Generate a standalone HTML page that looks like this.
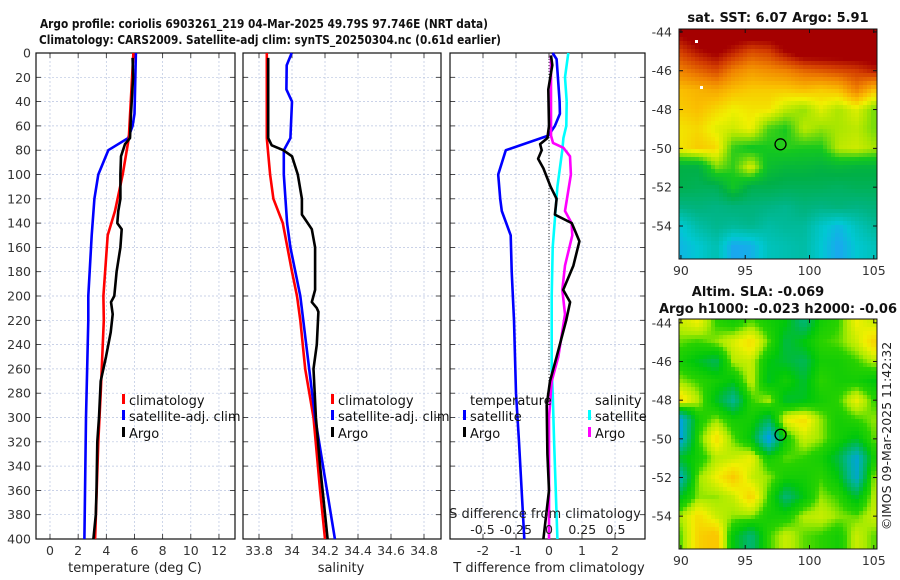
<!DOCTYPE html>
<html><head><meta charset="utf-8">
<style>
body{margin:0;background:#fff;}
#wrap{position:relative;width:900px;height:580px;overflow:hidden;background:#fff;}
svg{position:absolute;left:0;top:0;}
canvas{position:absolute;image-rendering:pixelated;}
text{font-family:"DejaVu Sans","Liberation Sans",sans-serif;}
</style></head>
<body>
<div id="wrap">
<canvas id="sstmap" width="198" height="230" style="left:679px;top:29px;width:198px;height:230px"></canvas>
<canvas id="slamap" width="198" height="230" style="left:679px;top:319px;width:198px;height:230px"></canvas>
<svg id="fig" width="900" height="580"></svg>
</div>
<script>
// ---------- data ----------
const depthTicks=[0,20,40,60,80,100,120,140,160,180,200,220,240,260,280,300,320,340,360,380,400];
const tempTicks=[0,2,4,6,8,10,12];
const salTicks=[33.8,34,34.2,34.4,34.6,34.8];
const tdiffTicks=[-2,-1,0,1,2];
const sdiffTicks=[-0.5,-0.25,0,0.25,0.5];
const sdiffTickLabels=["-0.5","-0.25","0","0.25","0.5"];
// temperature
const tClimDepth=[0,70,100,130,150,200,220,280,320,400];
const tClimVal=[5.92,5.6,5.16,4.62,4.1,3.79,3.82,3.6,3.43,3.2];
const tSatDepth=[0,50,60,70,80,100,120,150,200,220,300,400];
const tSatVal=[6.1,6.0,5.87,5.55,4.14,3.43,3.15,2.96,2.72,2.72,2.56,2.44];
const tArgoDepth=[4,20,30,50,70,75,85,100,120,130,140,145,160,180,200,205,215,230,250,270,300,320,360,380,400];
const tArgoVal=[5.87,5.9,5.85,5.75,5.68,5.33,5.04,5.0,5.0,4.85,4.78,5.09,5.0,4.73,4.57,4.33,4.45,4.31,3.98,3.6,3.48,3.36,3.3,3.25,3.08];
// salinity
const sClimDepth=[0,70,100,120,140,160,180,200,220,260,300,360,400];
const sClimVal=[33.847,33.847,33.867,33.887,33.944,33.972,34.0,34.03,34.05,34.08,34.13,34.17,34.2];
const sSatDepth=[0,10,30,40,70,80,100,140,160,200,300,400];
const sSatVal=[33.998,33.968,33.966,34.0,33.99,33.95,33.95,33.97,33.99,34.05,34.14,34.26];
const sArgoDepth=[4,70,76,80,85,100,120,133,135,145,160,180,195,205,210,213,240,260,300,340,400];
const sArgoVal=[33.856,33.856,33.877,33.947,34.0,34.035,34.06,34.06,34.07,34.12,34.14,34.14,34.14,34.12,34.15,34.16,34.15,34.13,34.145,34.17,34.216];
// differences
const dTSatDepth=[0,5,20,40,50,60,68,80,100,120,130,150,180,220,280,320,400];
const dTSatVal=[0.11,0.23,0.27,0.32,0.33,0.18,-0.02,-1.31,-1.54,-1.48,-1.43,-1.16,-1.13,-1.06,-1.0,-0.91,-0.75];
const dTArgoDepth=[2,10,30,60,70,75,80,87,95,110,120,133,140,155,175,195,205,220,250,270,290,330,360,400];
const dTArgoVal=[0.06,0.1,-0.02,0,-0.05,-0.27,-0.22,-0.33,-0.17,0.05,0.23,0.18,0.69,0.92,0.74,0.43,0.64,0.52,0.23,0.03,-0.07,-0.05,0,-0.17];
const dSSatDepth=[0,20,40,60,70,80,110,160,200,260,280,320,400];
const dSSatVal=[0.145,0.12,0.133,0.13,0.108,0.1,0.063,0.028,0.02,0.02,0.028,0.038,0.063];
const dSArgoDepth=[2,60,68,74,78,85,100,130,140,150,175,195,215,250,270,300,400];
const dSArgoVal=[0.015,0.015,0.015,0.03,0.108,0.158,0.165,0.12,0.17,0.175,0.12,0.1,0.12,0.07,0.02,0,0];
// maps (rows lat -44..-55, cols lon 90..105)
const sstGrid=[
[8.8,9,9,9,9,9,9,9,9,9,9,9],
[8.3,8.6,8.8,8.5,8.2,8.3,8.7,9,9,9,9,9],
[7.8,8.0,8.2,7.8,7.6,7.7,7.8,8.0,8.1,8.2,8.3,8.5],
[7.3,7.4,7.5,7.3,7.2,7.2,7.2,7.3,7.2,7.3,7.8,7.3],
[7.2,7.3,7.1,6.9,7.0,7.0,6.6,6.4,6.8,6.5,6.8,6.3],
[7.0,7.1,6.8,6.7,6.9,6.1,5.9,6.6,6.4,6.5,6.6,6.3],
[7.0,7.2,7.1,6.0,5.8,5.9,6.0,5.9,5.9,6.6,6.7,6.5],
[5.2,5.2,6.3,6.0,6.8,5.6,5.4,5.4,5.3,5.4,5.3,5.3],
[5.1,5.0,5.0,5.8,5.1,5.1,5.0,5.0,5.0,4.9,5.0,5.0],
[4.5,4.6,4.5,4.6,4.6,4.5,4.4,4.6,4.5,4.6,4.5,4.6],
[3.8,4.2,4.4,4.3,4.4,4.2,4.3,4.3,3.9,3.6,4.0,4.3],
[3.6,3.8,4.1,3.4,3.5,4.0,4.1,4.2,3.8,3.4,3.8,4.0]];
const slaGrid=[
[.06,.08,.02,.0,.03,.0,-.02,-.08,.0,.02,.08,.06],
[.03,.02,.04,.07,.10,.03,-.05,-.02,.02,.03,.06,.11],
[.0,-.03,-.06,.05,.06,-.02,-.04,-.06,.0,.0,.02,.05],
[.04,.02,.0,-.02,.06,-.03,.0,-.04,.02,.0,.0,-.02],
[.10,.05,-.03,-.10,.02,.05,-.04,-.03,.0,.02,.08,.02],
[-.15,.0,.04,.0,.0,-.06,.08,.10,.04,.0,.02,.04],
[-.15,.02,.10,.03,-.02,-.17,.0,.06,.04,.0,-.03,.03],
[-.03,.0,.05,.06,.08,.0,.03,.02,.0,-.05,-.15,.0],
[-.12,.04,.08,.12,.06,.04,.0,.0,.02,-.02,-.14,.04],
[-.03,.04,.04,.06,.11,.02,-.08,-.02,.04,.02,-.04,.05],
[.05,.10,.06,.04,.04,.0,.0,.05,.06,.04,.03,.06],
[.03,.11,.13,-.02,-.08,.02,.06,.03,.02,.0,.06,.03]];
const argoLon=97.746, argoLat=-49.79;
const latTicks=[-44,-46,-48,-50,-52,-54];
const lonTicks=[90,95,100,105];

// ---------- helpers ----------
const NS="http://www.w3.org/2000/svg";
const svg=document.getElementById('fig');
function mk(tag,attrs,parent){const e=document.createElementNS(NS,tag);for(const k in attrs)e.setAttribute(k,attrs[k]);(parent||svg).appendChild(e);return e;}
function txt(x,y,s,size,anchor,weight,fill,name){const t=mk('text',{x:x,y:y,'font-size':size,'text-anchor':anchor||'middle','font-weight':weight||'normal',fill:fill||'#222'});t.textContent=s;


return t;}
const Y0=53,Y1=539;
function yD(d){return Y0+(d/400)*(Y1-Y0);}

function panel(x0,x1,xTicks,xs,name,yLabels){
  const g=mk('g',{});
  
  
  xTicks.forEach(v=>{const x=xs(v);mk('line',{x1:x,x2:x,y1:Y0,y2:Y1,stroke:'#b8c4e0','stroke-width':0.7,'stroke-dasharray':'2,2'},g);
    mk('line',{x1:x,x2:x,y1:Y0,y2:Y0+5,stroke:'#222','stroke-width':0.8},g);mk('line',{x1:x,x2:x,y1:Y1,y2:Y1-5,stroke:'#222','stroke-width':0.8},g);});
  depthTicks.forEach(d=>{const y=yD(d);if(d>0&&d<400)mk('line',{x1:x0,x2:x1,y1:y,y2:y,stroke:'#b8c4e0','stroke-width':0.7,'stroke-dasharray':'2,2'},g);
    mk('line',{x1:x0,x2:x0+5,y1:y,y2:y,stroke:'#222','stroke-width':0.8},g);mk('line',{x1:x1,x2:x1-5,y1:y,y2:y,stroke:'#222','stroke-width':0.8},g);
    if(yLabels)txt(x0-5,y+4.5,String(d),12.5,'end','normal','#333','depth-tick-label');});
  const r=mk('rect',{x:x0,y:Y0,width:x1-x0,height:Y1-Y0,fill:'none',stroke:'#111','stroke-width':1.2},g);
  
  
  return g;
}
function line(depths,vals,xs,color,name,w){
  const pts=depths.map((d,i)=>xs(vals[i]).toFixed(1)+','+yD(d).toFixed(1)).join(' ');
  const p=mk('polyline',{points:pts,fill:'none',stroke:color,'stroke-width':w||2.6,'stroke-linejoin':'round'});
  
  
}
function legendEntry(x,y,color,label,name){
  const m=mk('rect',{x:x-7,y:y-11,width:3,height:10,fill:color});
  
  
  txt(x,y,label,13,'start','normal','#111',name);
}

// titles
const t1=txt(264,28,"Argo profile: coriolis 6903261_219 04-Mar-2025 49.79S 97.746E (NRT data)",12,'middle','bold','#111','title-line-1');
t1.setAttribute('textLength',448);t1.setAttribute('lengthAdjust','spacingAndGlyphs');
const t2=txt(270,44,"Climatology: CARS2009. Satellite-adj clim: synTS_20250304.nc (0.61d earlier)",12,'middle','bold','#111','title-line-2');
t2.setAttribute('textLength',462);t2.setAttribute('lengthAdjust','spacingAndGlyphs');

// panel 1 temperature
const xT=v=>50+v*14.08;
panel(36,235,tempTicks,xT,'temperature-panel',true);
tempTicks.forEach(v=>txt(xT(v),555,String(v),12.5,'middle','normal','#333','temp-tick-label'));
txt(135,572,"temperature (deg C)",13,'middle','normal','#222','temperature-axis-title');
line(tSatDepth,tSatVal,xT,'#0000ff','temp-satellite-line');
line(tClimDepth,tClimVal,xT,'#ff0000','temp-climatology-line');
line(tArgoDepth,tArgoVal,xT,'#000','temp-argo-line');
legendEntry(129,405,'#ff0000','climatology','legend-temp-climatology');
legendEntry(129,421,'#0000ff','satellite-adj. clim','legend-temp-satellite');
legendEntry(129,438,'#000','Argo','legend-temp-argo');

// panel 2 salinity
const xS=v=>259+(v-33.8)*165;
panel(243,441,salTicks,xS,'salinity-panel',false);
salTicks.forEach(v=>txt(xS(v),555,String(v),12.5,'middle','normal','#333','sal-tick-label'));
txt(341,572,"salinity",13,'middle','normal','#222','salinity-axis-title');
line(sClimDepth,sClimVal,xS,'#ff0000','sal-climatology-line');
line(sSatDepth,sSatVal,xS,'#0000ff','sal-satellite-line');
line(sArgoDepth,sArgoVal,xS,'#000','sal-argo-line');
legendEntry(338,405,'#ff0000','climatology','legend-sal-climatology');
legendEntry(338,421,'#0000ff','satellite-adj. clim','legend-sal-satellite');
legendEntry(338,438,'#000','Argo','legend-sal-argo');

// panel 3 differences
const xDT=v=>549+v*33;
const xDS=v=>549+v*133;
panel(450,645,tdiffTicks,xDT,'difference-panel',false);
const zl=mk('line',{x1:549,x2:549,y1:Y0,y2:Y1,stroke:'#333','stroke-width':1,'stroke-dasharray':'1,2'});


tdiffTicks.forEach(v=>txt(xDT(v),555,String(v),12.5,'middle','normal','#333','tdiff-tick-label'));
txt(549,572,"T difference from climatology",13,'middle','normal','#222','tdiff-axis-title');
line(dTSatDepth,dTSatVal,xDT,'#0000ff','tdiff-satellite-line');
line(dSSatDepth,dSSatVal,xDS,'#00ffff','sdiff-satellite-line');
line(dSArgoDepth,dSArgoVal,xDS,'#ff00ff','sdiff-argo-line');
line(dTArgoDepth,dTArgoVal,xDT,'#000','tdiff-argo-line');
txt(545,518,"S difference from climatology",13,'middle','normal','#222','sdiff-axis-title');
sdiffTicks.forEach((v,i)=>txt(xDS(v),534,sdiffTickLabels[i],12.5,'middle','normal','#222','sdiff-tick-label'));
txt(470,405,"temperature",13,'start','normal','#111','legend-temperature-heading');
legendEntry(470,421,'#0000ff','satellite','legend-tdiff-satellite');
legendEntry(470,438,'#000','Argo','legend-tdiff-argo');
txt(595,405,"salinity",13,'start','normal','#111','legend-salinity-heading');
legendEntry(595,421,'#00ffff','satellite','legend-sdiff-satellite');
legendEntry(595,438,'#ff00ff','Argo','legend-sdiff-argo');

// ---------- maps ----------
function lerpCol(stops,v){
  if(v<=stops[0][0])return stops[0][1];
  for(let i=1;i<stops.length;i++){if(v<=stops[i][0]){const a=stops[i-1],b=stops[i],t=(v-a[0])/(b[0]-a[0]);return a[1].map((c,k)=>Math.round(c+(b[1][k]-c)*t));}}
  return stops[stops.length-1][1];
}
const sstStops=[[3.2,[40,150,255]],[3.8,[0,200,210]],[4.5,[0,180,130]],[5.2,[0,176,70]],[5.9,[20,200,30]],[6.5,[170,230,0]],[6.9,[240,240,0]],[7.3,[250,190,0]],[7.8,[240,130,0]],[8.3,[210,60,0]],[8.7,[165,0,0]]];
const slaStops=[[-0.16,[0,160,230]],[-0.1,[0,180,150]],[-0.05,[0,185,70]],[-0.02,[0,200,10]],[0.02,[40,210,0]],[0.045,[170,235,0]],[0.08,[240,240,0]],[0.12,[250,200,0]]];
function drawMap(id,grid,stops,latTop,latBot,lonL,lonR){
  const c=document.getElementById(id),ctx=c.getContext('2d');
  const W=198,H=230,cell=4;
  const rows=grid.length,cols=grid[0].length;
  for(let py=0;py<H;py+=cell){for(let px=0;px<W;px+=cell){
    const lon=lonL+(px+cell/2)/W*(lonR-lonL), lat=latTop+(py+cell/2)/H*(latBot-latTop);
    let fc=(lon-90)/15*(cols-1), fr=(-44-lat)/11*(rows-1);
    fc=Math.max(0,Math.min(cols-1,fc));fr=Math.max(0,Math.min(rows-1,fr));
    const c0=Math.floor(fc),r0=Math.floor(fr),c1=Math.min(cols-1,c0+1),r1=Math.min(rows-1,r0+1),tx=fc-c0,ty=fr-r0;
    const v=(grid[r0][c0]*(1-tx)+grid[r0][c1]*tx)*(1-ty)+(grid[r1][c0]*(1-tx)+grid[r1][c1]*tx)*ty;
    const col=lerpCol(stops,v);ctx.fillStyle='rgb('+col.join(',')+')';ctx.fillRect(px,py,cell,cell);}}
}
const lonL=89.85,lonR=105.25;
drawMap('sstmap',sstGrid,sstStops,-43.85,-55.7,lonL,lonR);
drawMap('slamap',slaGrid,slaStops,-43.8,-55.7,lonL,lonR);
(function(){const ctx=document.getElementById('sstmap').getContext('2d');ctx.fillStyle='#fff';ctx.fillRect(16,11,3,3);ctx.fillRect(21,57,3,3);})();

function mapAxes(top,bot,latTop,latBot,name){
  const g=mk('g',{});
  
  
  const xL=v=>679+(v-lonL)/(lonR-lonL)*198;
  const yL=v=>top+(latTop-v)/(latTop-latBot)*(bot-top);
  mk('rect',{x:679,y:top,width:198,height:bot-top,fill:'none',stroke:'#111','stroke-width':1},g);
  latTicks.forEach(v=>{const y=yL(v);mk('line',{x1:679,x2:683,y1:y,y2:y,stroke:'#111'},g);mk('line',{x1:877,x2:873,y1:y,y2:y,stroke:'#111'},g);
    txt(672,y+4.5,String(v),12.5,'end','normal','#333','lat-tick-label');});
  lonTicks.forEach(v=>{const x=xL(v);mk('line',{x1:x,x2:x,y1:bot,y2:bot-4,stroke:'#111'},g);mk('line',{x1:x,x2:x,y1:top,y2:top+4,stroke:'#111'},g);
    txt(x,bot+16,String(v),12.5,'middle','normal','#333','lon-tick-label');});
  const c=mk('circle',{cx:xL(argoLon),cy:yL(argoLat),r:5.5,fill:'none',stroke:'#000','stroke-width':1.3},g);
  
  
}
mapAxes(29,259,-43.85,-55.7,'sst-map-axes');
mapAxes(319,549,-43.8,-55.7,'sla-map-axes');
txt(778,22,"sat. SST: 6.07 Argo: 5.91",13,'middle','bold','#111','sst-map-title');
txt(758,296,"Altim. SLA: -0.069",13,'middle','bold','#111','sla-map-title');
txt(778,313,"Argo h1000: -0.023 h2000: -0.06",13,'middle','bold','#111','sla-map-subtitle');
const cr=txt(0,0,"©IMOS 09-Mar-2025 11:42:32",12.5,'middle','normal','#222','copyright-timestamp');
cr.setAttribute('transform','translate(891,436) rotate(-90)');
</script>
</body></html>
